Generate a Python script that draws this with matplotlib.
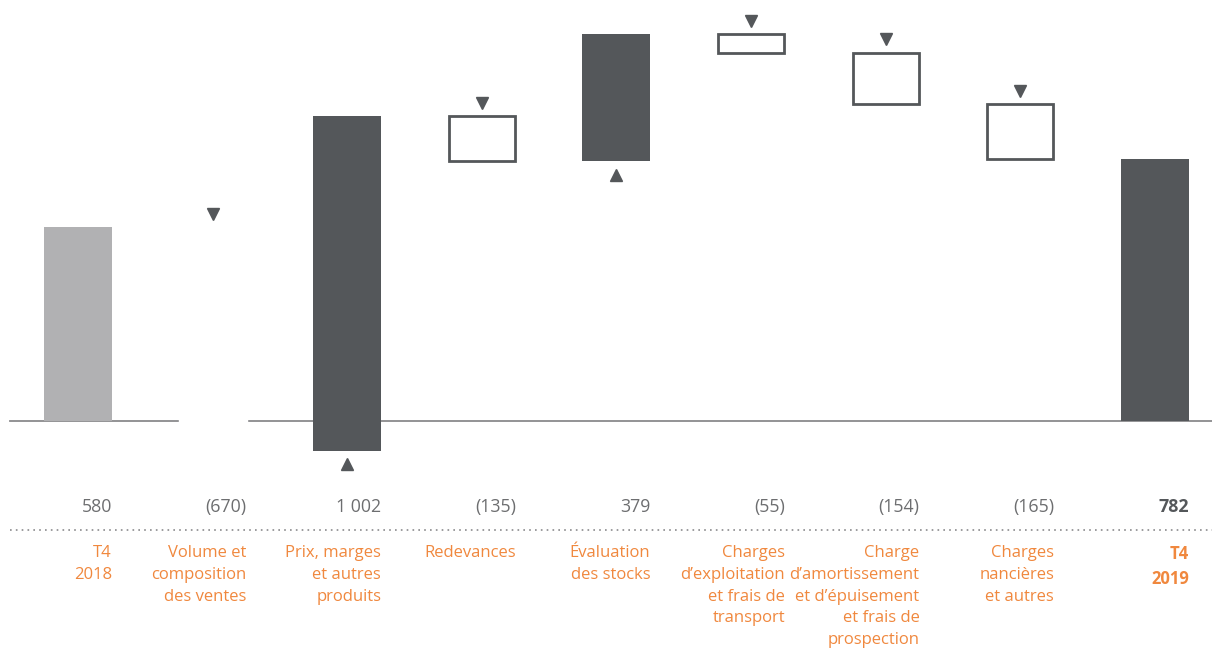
import matplotlib.pyplot as plt

plt.rcParams['font.family'] = ['Open Sans', 'DejaVu Sans']

# Data
categories = [
    "T4\n2018",
    "Volume et\ncomposition\ndes ventes",
    "Prix, marges\net autres\nproduits",
    "Redevances",
    "Évaluation\ndes stocks",
    "Charges\nd\u2019exploitation\net frais de\ntransport",
    "Charge\nd\u2019amortissement\net d\u2019épuisement\net frais de\nprospection",
    "Charges\nnancières\net autres",
    "T4\n2019",
]
values = [580, -670, 1002, -135, 379, -55, -154, -165, 782]
value_labels = ["580", "(670)", "1 002", "(135)", "379", "(55)", "(154)", "(165)", "782"]

dark = '#54575a'
light = '#b1b1b3'
orange = '#f0883e'
text_gray = '#6d6e70'

fig = plt.figure(figsize=(12.12, 6.5), dpi=100)
ax = fig.add_axes([0, 0, 1, 1])
ax.axis('off')
ax.set_xlim(-0.58, 8.425)
ax.set_ylim(-685, 1259)

width = 0.505
n = len(values)

# baseline
ax.plot([-0.505, 8.425], [0, 0], color='#8a8a8c', lw=1.3, zorder=1)
# dotted separator
ax.plot([-0.505, 8.425], [-326, -326], color='#8a8a8c', lw=1.2,
        ls=(0, (1, 2.5)), zorder=1)

running = 0
for i, v in enumerate(values):
    if i == 0:
        ax.bar(i, v, width=width, color=light, zorder=2)
        running = v
    elif i == n - 1:
        ax.bar(i, v, width=width, color=dark, zorder=2)
    else:
        lo = min(running, running + v)
        hi = max(running, running + v)
        if v > 0:
            ax.bar(i, hi - lo, bottom=lo, width=width, color=dark, zorder=2)
            ax.plot(i, lo - 40, marker='^', color=dark, ms=9, mec=dark, zorder=3)
        else:
            if i == 1:
                # white bar hides the baseline
                ax.bar(i, hi - lo, bottom=lo, width=width, color='white',
                       edgecolor='white', zorder=2)
            else:
                ax.bar(i, hi - lo, bottom=lo, width=width * 0.97, color='white',
                       edgecolor=dark, lw=2, zorder=2)
            ax.plot(i, hi + 40, marker='v', color=dark, ms=9, mec=dark, zorder=3)
        running += v

    bold = 'bold' if i == n - 1 else 'normal'
    vcol = dark if i == n - 1 else text_gray
    ax.text(i + width / 2, -257, value_labels[i], ha='right', va='center',
            fontsize=12.8, color=vcol, fontweight=bold)
    ax.text(i + width / 2, -372, categories[i], ha='right', va='top',
            fontsize=12, color=orange, fontweight=bold, linespacing=1.47)

fig.savefig('out.png', dpi=100)
